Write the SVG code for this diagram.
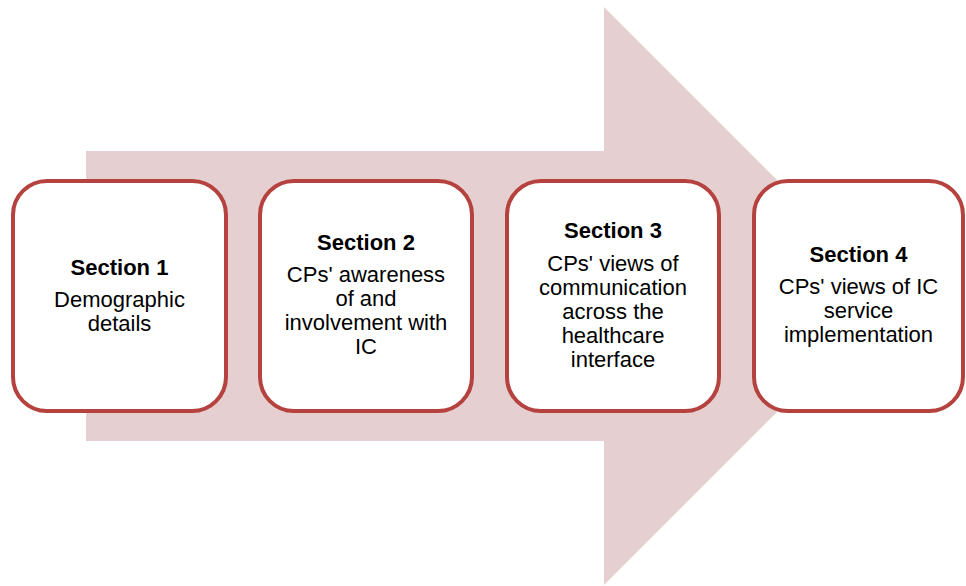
<svg xmlns="http://www.w3.org/2000/svg" width="966" height="586" viewBox="0 0 966 586">
<style>
.box{fill:#ffffff;stroke:#b5423f;stroke-width:4}
.t{font-family:"Liberation Sans",Arial,sans-serif;font-size:22px;fill:#000;text-anchor:middle}
.b{font-weight:bold}
</style>
<rect width="966" height="586" fill="#ffffff"/>
<polygon id="arrow" points="86,151 604,151 604,7 893,296 604,585 604,441 86,441" fill="#e6cfd0"/>
<g id="connectors"></g>
<g id="node1">
<rect class="box" x="13" y="181" width="213" height="230" rx="34"/>
<text class="t b" x="119.5" y="275">Section 1</text>
<text class="t" x="119.5" y="307">Demographic</text>
<text class="t" x="119.5" y="331">details</text>
</g>
<g id="node2">
<rect class="box" x="260" y="181" width="212" height="230" rx="34"/>
<text class="t b" x="366" y="250">Section 2</text>
<text class="t" x="366" y="282">CPs' awareness</text>
<text class="t" x="366" y="306">of and</text>
<text class="t" x="366" y="330">involvement with</text>
<text class="t" x="366" y="354">IC</text>
</g>
<g id="node3">
<rect class="box" x="507" y="181" width="212" height="230" rx="34"/>
<text class="t b" x="613" y="238">Section 3</text>
<text class="t" x="613" y="271">CPs' views of</text>
<text class="t" x="613" y="295">communication</text>
<text class="t" x="613" y="319">across the</text>
<text class="t" x="613" y="343">healthcare</text>
<text class="t" x="613" y="367">interface</text>
</g>
<g id="node4">
<rect class="box" x="754" y="181" width="209" height="230" rx="34"/>
<text class="t b" x="858.5" y="262">Section 4</text>
<text class="t" x="858.5" y="294">CPs' views of IC</text>
<text class="t" x="858.5" y="318">service</text>
<text class="t" x="858.5" y="342">implementation</text>
</g>
</svg>
